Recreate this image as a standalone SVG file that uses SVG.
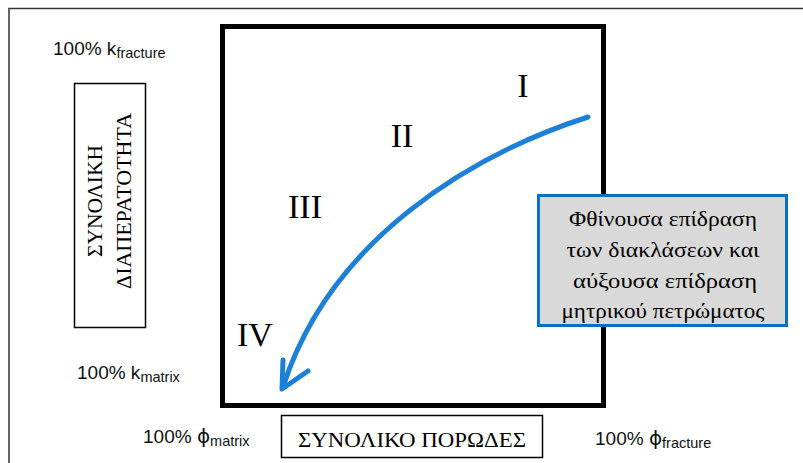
<svg xmlns="http://www.w3.org/2000/svg" width="803" height="463" viewBox="0 0 803 463">
<style>
.frame{fill:none;stroke:#333;stroke-width:1.5}
.box{fill:#fff;stroke:#000;stroke-width:1.5}
.roman{font-family:"Liberation Serif",serif;font-size:34px;fill:#000;text-anchor:middle}
.serif{font-family:"Liberation Serif",serif;font-size:22px;fill:#000}
.lbl{font-family:"Liberation Sans",sans-serif;font-size:19px;fill:#111}
.sub{font-size:14.5px}
.phi{font-family:"DejaVu Sans",sans-serif;font-size:20px}
.note{font-family:"Liberation Serif",serif;font-size:22px;fill:#000;text-anchor:middle}
.flow{fill:none;stroke:#1e7fd6;stroke-width:5;stroke-linecap:round;stroke-linejoin:round}
</style>
<rect width="803" height="463" fill="#fff"/>
<path class="frame" d="M9,463 V8.5 H803"/>
<g id="chart">
<rect x="222.5" y="26.5" width="381" height="379" fill="none" stroke="#000" stroke-width="5"/>
</g>
<g id="labels-roman">
<text class="roman" x="523" y="97">I</text>
<text class="roman" x="402" y="147">II</text>
<text class="roman" x="305" y="218">III</text>
<text class="roman" x="255" y="346">IV</text>
</g>
<g id="connectors">
<path class="flow" d="M588,117 C470,155 330,240 283,387"/>
<path class="flow" d="M283,360 L282,389 L308,371"/>
</g>
<g id="note">
<rect x="538.5" y="195.5" width="248" height="130" fill="#d9d9d9" stroke="#0a70c4" stroke-width="3"/>
<text class="note" x="663" y="226" textLength="188" lengthAdjust="spacingAndGlyphs">Φθίνουσα επίδραση</text>
<text class="note" x="663" y="257" textLength="193" lengthAdjust="spacingAndGlyphs">των διακλάσεων και</text>
<text class="note" x="665" y="288" textLength="184" lengthAdjust="spacingAndGlyphs">αύξουσα επίδραση</text>
<text class="note" x="663" y="318" textLength="203" lengthAdjust="spacingAndGlyphs">μητρικού πετρώματος</text>
</g>
<g id="y-axis">
<rect class="box" x="74.5" y="83.5" width="71" height="244"/>
<text class="serif" transform="translate(102,201) rotate(-90)" text-anchor="middle" textLength="112" lengthAdjust="spacingAndGlyphs">ΣΥΝΟΛΙΚΗ</text>
<text class="serif" transform="translate(131,201) rotate(-90)" text-anchor="middle" textLength="176" lengthAdjust="spacingAndGlyphs">ΔΙΑΠΕΡΑΤΟΤΗΤΑ</text>
</g>
<g id="x-axis">
<rect class="box" x="281.5" y="415.5" width="261" height="42"/>
<text class="serif" x="412" y="447" text-anchor="middle" textLength="228" lengthAdjust="spacingAndGlyphs">ΣΥΝΟΛΙΚΟ ΠΟΡΩΔΕΣ</text>
</g>
<g id="axis-labels">
<text class="lbl" x="53" y="55">100% k<tspan class="sub" dy="3">fracture</tspan></text>
<text class="lbl" x="77" y="379">100% k<tspan class="sub" dy="3">matrix</tspan></text>
<text class="lbl" x="143" y="443">100% <tspan class="phi">ϕ</tspan><tspan class="sub" dy="3">matrix</tspan></text>
<text class="lbl" x="595" y="445">100% <tspan class="phi">ϕ</tspan><tspan class="sub" dy="3">fracture</tspan></text>
</g>
</svg>
